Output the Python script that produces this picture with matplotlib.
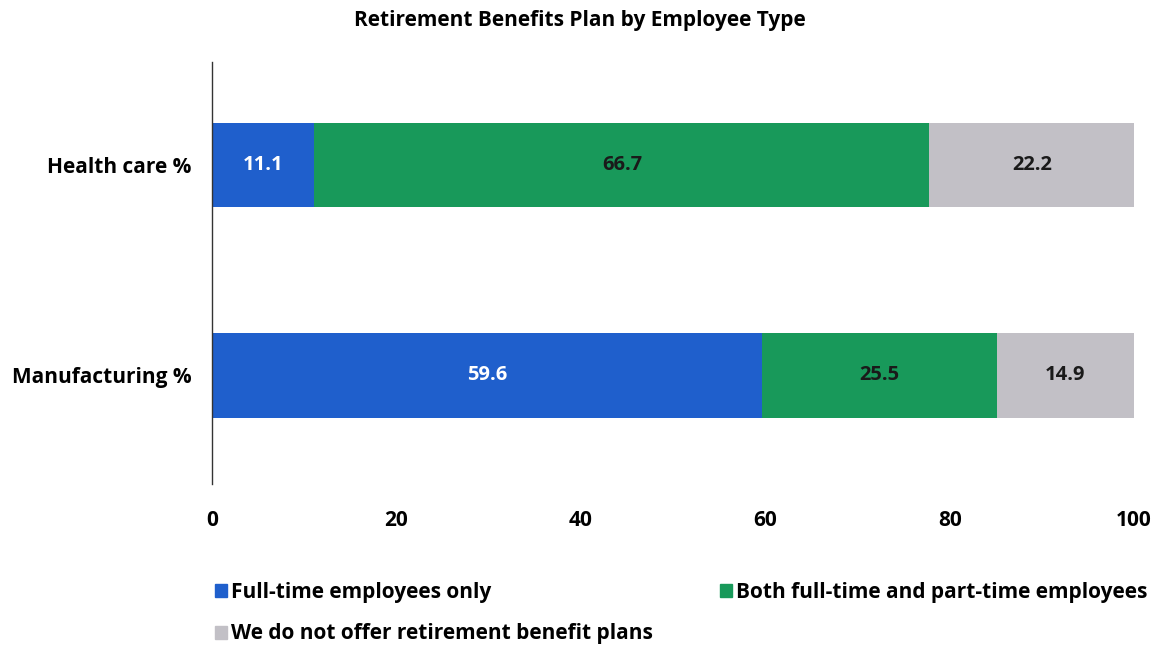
import matplotlib.pyplot as plt
from matplotlib.patches import Patch

plt.rcParams['font.family'] = ['Open Sans', 'DejaVu Sans']

categories = ['Manufacturing %', 'Health care %']
full_time = [59.6, 11.1]
both = [25.5, 66.7]
no_plan = [14.9, 22.2]
series_names = ['Full-time employees only',
                'Both full-time and part-time employees',
                'We do not offer retirement benefit plans']
colors = ['#1f5fcc', '#18995a', '#c2c0c6']
label_colors = ['white', '#1a1a1a', '#1a1a1a']

fig = plt.figure(figsize=(11.59, 6.47), dpi=100, facecolor='white')
ax = fig.add_axes([0.183, 0.252, 0.7955, 0.652])

ypos = list(range(len(categories)))
left = [0.0] * len(categories)
for vals, col, tcol in zip([full_time, both, no_plan], colors, label_colors):
    bars = ax.barh(ypos, vals, left=left, height=0.404, color=col)
    for b, v in zip(bars, vals):
        ax.text(b.get_x() + b.get_width() / 2, b.get_y() + b.get_height() / 2,
                f'{v:.1f}', ha='center', va='center', color=tcol,
                fontsize=14.5, fontweight='bold')
    left = [l + v for l, v in zip(left, vals)]

ax.set_xlim(0, 100)
ax.set_ylim(-0.518, 1.49)
ax.set_yticks(ypos)
ax.set_yticklabels(categories, fontsize=15, fontweight='bold')
ax.set_xticks([0, 20, 40, 60, 80, 100])
ax.tick_params(axis='both', length=0)
ax.tick_params(axis='x', pad=19, labelsize=15)
ax.tick_params(axis='y', pad=15)
for lbl in ax.get_xticklabels():
    lbl.set_fontweight('bold')
for s in ['top', 'right', 'bottom']:
    ax.spines[s].set_visible(False)
ax.spines['left'].set_color('#333333')
ax.spines['left'].set_linewidth(1.0)

fig.suptitle('Retirement Benefits Plan by Employee Type', x=0.5, y=0.985,
             fontsize=15, fontweight='bold')

handles = [Patch(color=colors[0]), Patch(color=colors[2]), Patch(color=colors[1])]
names = [series_names[0], series_names[2], series_names[1]]
fig.legend(handles, names, loc='upper left', bbox_to_anchor=(0.169, 0.13),
           ncol=2, frameon=False, handlelength=0.6, handleheight=0.6,
           handletextpad=0.2, columnspacing=3.2, labelspacing=1.0,
           prop={'size': 15, 'weight': 'bold'})

fig.savefig('out.png', dpi=100, facecolor='white')
